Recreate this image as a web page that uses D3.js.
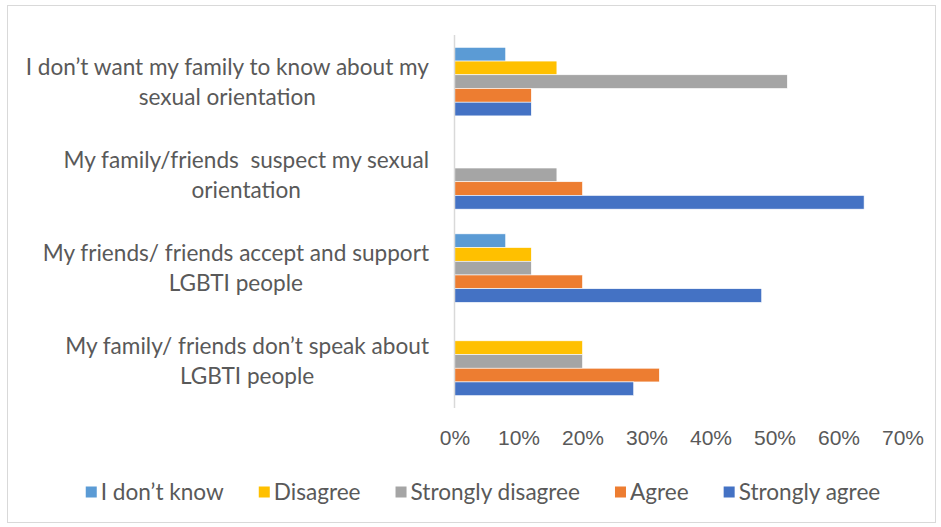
<!DOCTYPE html>
<html><head><meta charset="utf-8">
<script src="https://cdn.jsdelivr.net/npm/d3@7.9.0/dist/d3.min.js"></script>
<style>body{margin:0;background:#fff}svg{display:block;font-family:Lato,"Open Sans",sans-serif}</style>
</head><body><svg width="941" height="527"></svg>
<script>
// categories (top to bottom), each label split into its two lines
const categories=["I don’t want my family to know about my|sexual orientation","My family/friends  suspect my sexual|orientation","My friends/ friends accept and support|LGBTI people","My family/ friends don’t speak about|LGBTI people"];
const series=["I don’t know","Disagree","Strongly disagree","Agree","Strongly agree"];
const colors=["#5B9BD5","#FFC000","#A5A5A5","#ED7D31","#4472C4"];
// values per series, same order as categories
const idk=[0.08,0,0.08,0];
const disagree=[0.16,0,0.12,0.20];
const strDisagree=[0.52,0.16,0.12,0.20];
const agree=[0.12,0.20,0.20,0.32];
const strAgree=[0.12,0.64,0.48,0.28];
const ticks=[0,0.1,0.2,0.3,0.4,0.5,0.6,0.7];

const vals=[idk,disagree,strDisagree,agree,strAgree];
const svg=d3.select("svg"),fs=22.6,txt="#595959";
svg.append("rect").attr("x",7.5).attr("y",5.5).attr("width",928).attr("height",517).attr("fill","none").attr("stroke","#d9d9d9");

const x=d3.scaleLinear().domain([0,0.7]).range([454.5,902.5]);
const y=d3.scaleBand().domain(categories).range([35,408]).paddingInner(0.265).paddingOuter(0.1325);
const ys=d3.scaleBand().domain(series).range([0,y.bandwidth()]);

const rows=[];
categories.forEach((c,i)=>series.forEach((s,j)=>rows.push({c,s,v:vals[j][i],col:colors[j]})));
svg.append("g").selectAll("rect").data(rows.filter(d=>d.v>0)).join("rect")
 .attr("x",x(0)).attr("y",d=>y(d.c)+ys(d.s)).attr("width",d=>x(d.v)-x(0)).attr("height",ys.bandwidth())
 .attr("fill",d=>d.col).attr("stroke","#fff").attr("stroke-width",0.6);

svg.append("line").attr("x1",454.5).attr("x2",454.5).attr("y1",35).attr("y2",408).attr("stroke","#d9d9d9").attr("stroke-width",1.5);

// x tick labels
const ax=svg.append("g").attr("transform","translate(0,438)").call(d3.axisBottom(x).tickValues(ticks).tickFormat(d3.format(".0%")).tickSize(0).tickPadding(0));
ax.select(".domain").remove();
ax.selectAll("text").attr("fill",txt).attr("font-size",21).attr("font-family",null).attr("dy","0.35em");

// category labels: each block right-aligned, lines centred within block
categories.forEach(c=>{
  const lines=c.split("|"),cy=y(c)+y.bandwidth()/2;
  const g=svg.append("g");
  const t=g.selectAll("text").data(lines).join("text").attr("font-size",fs).attr("fill",txt)
    .attr("text-anchor","middle").attr("y",(d,i)=>cy+(i-0.5)*30).attr("dy","0.35em").text(d=>d).style("white-space","pre");
  const w=d3.max(t.nodes(),n=>n.getComputedTextLength());
  t.attr("x",429-w/2);
});

// legend
const lg=svg.append("g");
let lx=0;
series.forEach((s,j)=>{
  const it=lg.append("g").attr("transform",`translate(${lx},0)`);
  it.append("rect").attr("x",0).attr("y",-5.5).attr("width",11).attr("height",11).attr("fill",colors[j]);
  const t=it.append("text").attr("x",15).attr("dy","0.35em").attr("font-size",fs).attr("fill",txt).text(s);
  lx+=15+t.node().getComputedTextLength()+35;
});
lx-=35;
lg.attr("transform",`translate(${483-lx/2},492)`);
</script></body></html>
